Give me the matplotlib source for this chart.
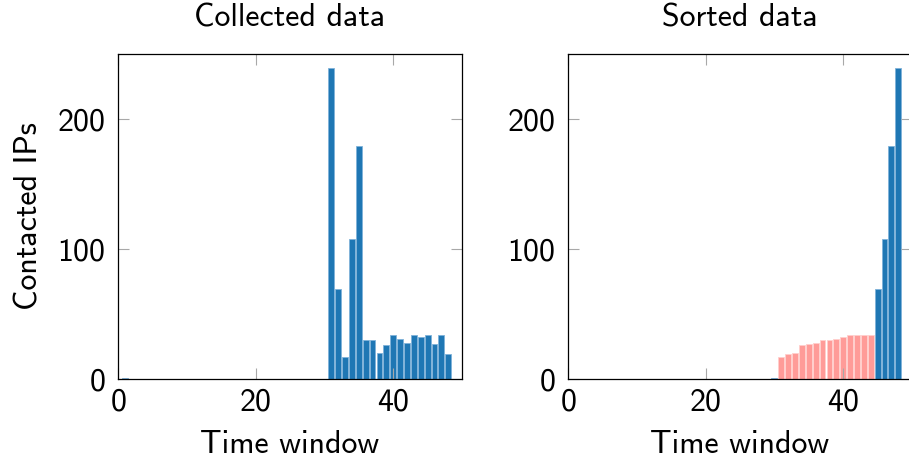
import numpy as np
import matplotlib
matplotlib.use('Agg')
from matplotlib import pyplot as plt

# 每个时间窗口联系的 IP 数量
windows = list(range(49))
contacted = [0, 1] + [0] * 29 + [239, 69, 17, 108, 179, 30, 30, 20, 26,
                                 34, 31, 28, 34, 32, 34, 27, 34, 19]
# 排序后处于中间段的窗口（浅红色）
mid_low, mid_high = 10, 60

blue = '#1f77b4'
blue_edge = '#7fb2d9'
pink = '#ff9b98'
pink_edge = '#ffcfcd'

plt.rcParams['font.family'] = ['cmss10', 'DejaVu Sans']
plt.rcParams['axes.formatter.use_mathtext'] = True
plt.rcParams['font.size'] = 23

fig = plt.figure(figsize=(9.09, 4.67), dpi=100)
W, H = 909, 467
axL = fig.add_axes([118 / W, (H - 379) / H, 344 / W, 325 / H])
axR = fig.add_axes([568 / W, (H - 379) / H, 344 / W, 325 / H])

sortedVals = sorted(contacted)
colsL = [blue] * len(contacted)
edgeL = [blue_edge] * len(contacted)
colsR = [pink if mid_low < v < mid_high else blue for v in sortedVals]
edgeR = [pink_edge if mid_low < v < mid_high else blue_edge for v in sortedVals]

for ax, vals, cols, edges, title in [(axL, contacted, colsL, edgeL, 'Collected data'),
                                      (axR, sortedVals, colsR, edgeR, 'Sorted data')]:
    ax.bar(windows, vals, width=0.85, color=cols, edgecolor=edges, linewidth=0.6)
    ax.set_xlim(0, 50)
    ax.set_ylim(0, 250)
    ax.set_xticks([0, 20, 40])
    ax.set_yticks([0, 100, 200])
    ax.tick_params(direction='in', length=8, width=0.8, color='#a8a8a8',
                   top=True, right=True, labelsize=23)
    ax.tick_params(axis='y', pad=9)
    ax.tick_params(axis='x', pad=6)
    for s in ax.spines.values():
        s.set_linewidth(0.9)
    ax.set_title(title, fontsize=23, pad=20)
    ax.set_xlabel('Time window', fontsize=23, labelpad=10)

axL.set_ylabel('Contacted IPs', fontsize=23, labelpad=10)

fig.savefig('out.png', dpi=100)
